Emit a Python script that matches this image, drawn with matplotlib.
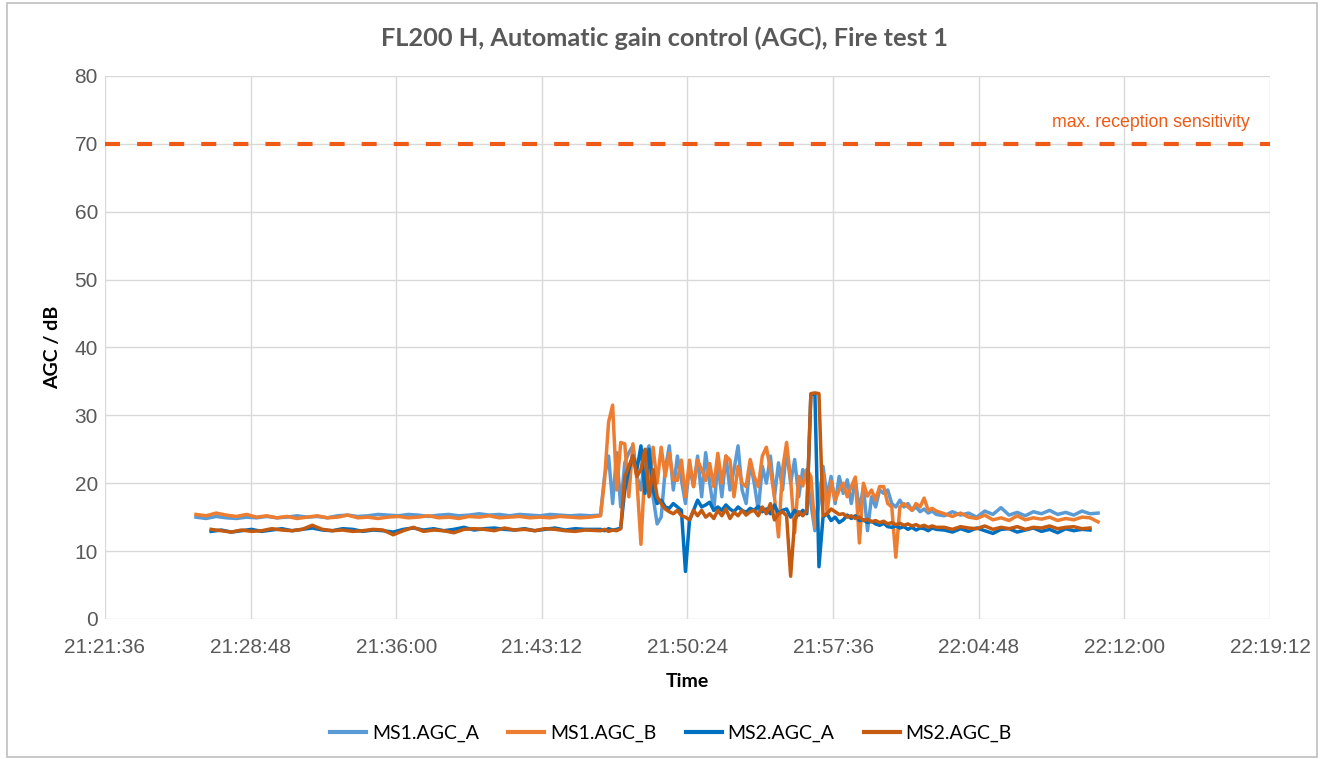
import numpy as np
import matplotlib
matplotlib.use("Agg")
import matplotlib.pyplot as plt
from matplotlib.ticker import FuncFormatter, MultipleLocator
from matplotlib.patches import Rectangle

# time axis in seconds of the day, 21:21:36 .. 22:19:12
x_min = 21 * 3600 + 21 * 60 + 36
x_max = 22 * 3600 + 19 * 60 + 12
tick_step = 432  # 7:12

# segment start times (s of day) and sampling steps
ms1_flat_start, flat_step = 77166, 30
ms2_flat_start = 77211
active_start, active_step = 78366, 12
tail_start, tail_step = 79386, 24

# MS1 quiet phase
ms1_a_flat = [15.0, 14.8, 15.1, 14.9, 14.8, 15.0, 14.9, 15.1, 14.9, 15.0,
              15.2, 15.0, 15.1, 14.9, 15.2, 15.3, 15.1, 15.2, 15.4, 15.3,
              15.2, 15.4, 15.3, 15.1, 15.3, 15.4, 15.2, 15.3, 15.5, 15.3,
              15.4, 15.2, 15.4, 15.3, 15.2, 15.4, 15.3, 15.2, 15.3, 15.2]
ms1_b_flat = [15.4, 15.2, 15.6, 15.3, 15.1, 15.4, 15.0, 15.2, 14.9, 15.1,
              14.8, 15.0, 15.2, 14.9, 15.0, 15.3, 14.9, 15.0, 14.8, 15.0,
              15.1, 14.9, 15.0, 15.2, 14.9, 15.0, 14.8, 15.1, 15.0, 15.2,
              14.9, 15.0, 15.1, 14.9, 15.0, 14.9, 15.1, 15.0, 14.9, 15.0]
# MS2 quiet phase
ms2_a_flat = [12.9, 13.1, 12.8, 13.0, 13.2, 12.9, 13.1, 13.3, 13.0, 13.2,
              13.4, 13.1, 13.0, 13.3, 13.2, 12.9, 13.1, 13.0, 12.8, 13.2,
              13.4, 13.1, 13.3, 13.0, 13.2, 13.5, 13.1, 13.3, 13.4, 13.2,
              13.1, 13.3, 13.0, 13.2, 13.4, 13.1, 13.3, 13.2]
ms2_b_flat = [13.2, 13.0, 12.8, 13.1, 12.9, 13.0, 13.3, 13.1, 13.0, 13.2,
              13.8, 13.2, 13.0, 13.1, 12.9, 13.0, 13.2, 13.1, 12.4, 13.0,
              13.5, 12.9, 13.1, 13.0, 12.7, 13.2, 13.3, 13.2, 13.0, 13.4,
              13.1, 13.2, 13.0, 13.3, 13.2, 13.0, 12.9, 13.1]

# fire phase
ms1_a_fire = [15.3, 21, 24, 17, 24.5, 16.5, 23, 24.5, 25.5, 21,
              19, 24, 25.5, 18, 14, 15, 22, 25.5, 19, 24,
              20.5, 17, 22.5, 19.5, 24, 18, 24.5, 20, 16, 23,
              18, 24, 19, 22, 25.5, 19, 17, 23, 20, 16,
              22.5, 20, 24, 18, 23, 19, 25, 20, 23.5, 18,
              22, 20.5, 17, 13, 17, 22.5, 18, 21, 17, 21,
              18.5, 20.5, 17, 20.5, 16, 19.5, 13, 18, 16.5, 19,
              18.5, 19, 17, 16.5, 17.5, 16.5, 17, 16, 16.5, 15.8,
              16.2, 15.6, 15.9, 15.4]
ms1_b_fire = [15.2, 20.5, 29, 31.5, 19, 26, 25.8, 18, 25.8, 20.5,
              11, 22.5, 20, 25.3, 20, 25.3, 21, 24.4, 20.5, 20.4,
              23.4, 18, 23.4, 19.5, 23.4, 22, 20.4, 22.9, 19.5, 24.4,
              20, 24, 23.4, 18, 22.5, 20, 19.5, 23.5, 21, 19.5,
              24, 25.3, 22, 18, 12.1, 22, 26, 20.5, 12.7, 21,
              19.6, 22, 21, 13.5, 18, 21.5, 15.7, 20.3, 17.5, 19,
              20, 18, 19.5, 20.9, 11.2, 20, 18.1, 19, 17.5, 19.5,
              19.5, 17, 16.5, 9.1, 16.5, 17, 16.5, 16, 17, 16.5,
              17.8, 16, 16.3, 15.9]
ms2_a_fire = [13.2, 13.0, 13.3, 13.1, 13.2, 13.4, 19, 22, 24, 22,
              25.5, 18.5, 25, 19, 17, 17.5, 16.5, 16.3, 17, 16.5,
              16, 7, 14.5, 16, 17.5, 16.5, 16.8, 17.2, 16, 16.5,
              16, 16.8, 16.2, 15.8, 16.5, 16, 15.7, 16.3, 16, 16.6,
              15.8, 16.2, 15.5, 16.8, 15.5, 16, 16.2, 15, 16, 15.3,
              16, 15.5, 33, 33.2, 7.7, 15, 15.5, 14.5, 15, 14.2,
              14.6, 15.3, 14.8, 15.2, 14.5, 14.6, 14.2, 14.4, 14, 13.8,
              14.1, 13.6, 13.5, 13.7, 13.4, 13.6, 13.2, 13.5, 13.1, 13.4,
              13.3, 13, 13.4, 13.2]
ms2_b_fire = [13.0, 13.2, 12.9, 13.1, 13.0, 13.3, 21, 22.5, 24, 21,
              22, 25, 18, 22, 18, 17, 16.2, 15.8, 15.5, 16,
              15.2, 15, 14.6, 16, 15.2, 16, 15, 15.5, 14.8, 16,
              15.2, 16.2, 14.8, 15.7, 15.2, 16, 15.3, 15.8, 16, 15.2,
              16.5, 15.5, 17, 14.6, 15.5, 15.8, 15.2, 6.3, 14.5, 15.8,
              15.2, 16, 33.2, 33.3, 33.2, 15.2, 15.5, 16.2, 15.8, 15.4,
              15.5, 15, 15.2, 14.8, 15, 14.5, 14.7, 14.3, 14.5, 14.2,
              14.4, 14, 14.2, 13.9, 14.1, 13.8, 14, 13.7, 13.9, 13.6,
              13.8, 13.5, 13.7, 13.5]

# after the fire
ms1_a_tail = [15.2, 15.8, 15.3, 15.6, 15.0, 15.9, 15.4, 16.4, 15.3, 15.7,
              15.2, 15.8, 15.5, 16.0, 15.4, 15.7, 15.3, 15.9, 15.5, 15.6]
ms1_b_tail = [15.5, 15.1, 15.6, 15.0, 14.8, 15.3, 14.6, 14.9, 14.5, 15.2,
              14.6, 14.9, 14.7, 15.0, 14.5, 14.8, 14.6, 15.0, 14.9, 14.3]
ms2_a_tail = [13.1, 12.8, 13.3, 12.9, 13.4, 13.0, 12.6, 13.2, 13.3, 12.8,
              13.1, 13.4, 12.9, 13.2, 12.7, 13.3, 13.0, 13.2, 13.1]
ms2_b_tail = [13.5, 13.2, 13.6, 13.4, 13.3, 13.7, 13.2, 13.5, 13.3, 13.6,
              13.2, 13.5, 13.4, 13.7, 13.3, 13.5, 13.6, 13.3, 13.4]

max_sensitivity = 70


def build(flat_start, flat, fire, tail):
    t = np.concatenate([
        flat_start + flat_step * np.arange(len(flat)),
        active_start + active_step * np.arange(len(fire)),
        tail_start + tail_step * np.arange(len(tail)),
    ])
    return t, np.array(flat + fire + tail, dtype=float)


series = [
    ("MS1.AGC_A", "#5B9BD5", build(ms1_flat_start, ms1_a_flat, ms1_a_fire, ms1_a_tail)),
    ("MS1.AGC_B", "#ED7D31", build(ms1_flat_start, ms1_b_flat, ms1_b_fire, ms1_b_tail)),
    ("MS2.AGC_A", "#0070C0", build(ms2_flat_start, ms2_a_flat, ms2_a_fire, ms2_a_tail)),
    ("MS2.AGC_B", "#C55A11", build(ms2_flat_start, ms2_b_flat, ms2_b_fire, ms2_b_tail)),
]


def hms(v, pos=None):
    v = int(round(v))
    return "%d:%02d:%02d" % (v // 3600, (v % 3600) // 60, v % 60)


fig = plt.figure(figsize=(13.3, 7.59), dpi=100)
fig.patches.append(Rectangle((0.005, 0.002), 0.985, 0.994, transform=fig.transFigure,
                             fill=False, edgecolor="#BFBFBF", linewidth=1.2))
ax = fig.add_axes([0.0789, 0.1845, 0.8760, 0.7155])

for name, color, (t, v) in series:
    ax.plot(t, v, color=color, lw=2.5, label=name, solid_joinstyle="round")

ax.axhline(max_sensitivity, color="#EE5A16", lw=3, dashes=(3.6, 4.1))
ax.text(x_min + (1250 - 105) * 2.966, max_sensitivity + 1.9, "max. reception sensitivity",
        color="#EE5A16", fontsize=12.8, ha="right", va="bottom", family="Liberation Sans")

ax.set_xlim(x_min, x_max)
ax.set_ylim(0, 80)
ax.xaxis.set_major_formatter(FuncFormatter(hms))
ax.yaxis.set_major_locator(MultipleLocator(10))
ax.set_xticks(np.arange(x_min, x_max + 1, tick_step))
ax.grid(True, color="#D9D9D9", lw=1)
ax.set_axisbelow(True)
for s in ax.spines.values():
    s.set_visible(False)
ax.tick_params(length=0, labelsize=15, labelcolor="#595959")
ax.tick_params(axis="x", pad=14)
ax.tick_params(axis="y", pad=5)
for lab in ax.get_xticklabels() + ax.get_yticklabels():
    lab.set_family("Liberation Sans")

fig.text(0.4995, 1 - 38 / 759, "FL200 H, Automatic gain control (AGC), Fire test 1",
         fontsize=18.3, fontweight="bold", color="#595959", family="Lato",
         ha="center", va="center")
ax.set_xlabel("Time", fontsize=14, fontweight="bold", family="Lato", labelpad=11)
ax.set_ylabel("AGC / dB", fontsize=14, fontweight="bold", family="Lato", labelpad=10)

leg = fig.legend(loc="center", bbox_to_anchor=(0.5045, 1 - 733 / 759), ncol=4, frameon=False,
                 prop={"family": "Lato", "size": 14}, handlelength=1.85, columnspacing=1.5,
                 handletextpad=0.3)
for line in leg.get_lines():
    line.set_linewidth(3)

fig.savefig("out.png", dpi=100)
